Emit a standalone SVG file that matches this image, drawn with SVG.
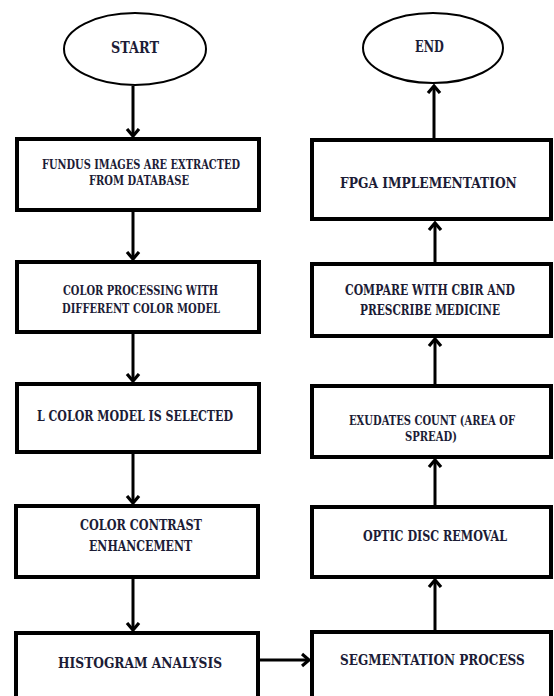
<svg xmlns="http://www.w3.org/2000/svg" width="554" height="696" viewBox="0 0 554 696">
<style>
.box{fill:#fff;stroke:#000;stroke-width:4}
.oval{fill:#fff;stroke:#000;stroke-width:2}
.t{font-family:"DejaVu Serif","Liberation Serif",serif;font-weight:bold;fill:#1c1c36}
.c{stroke:#000;stroke-width:3;fill:none}
</style>
<defs>
<marker id="ah" markerUnits="userSpaceOnUse" markerWidth="16" markerHeight="16" refX="8" refY="8" orient="auto">
<path d="M1,2 L8,8 L1,14" fill="none" stroke="#000" stroke-width="3.2"/>
</marker>
</defs>
<rect width="554" height="696" fill="#fff"/>
<g id="connectors">
<line class="c" x1="133" y1="86" x2="133" y2="136" marker-end="url(#ah)"/>
<line class="c" x1="133" y1="212" x2="133" y2="259" marker-end="url(#ah)"/>
<line class="c" x1="133" y1="334" x2="133" y2="381" marker-end="url(#ah)"/>
<line class="c" x1="133" y1="454" x2="133" y2="503" marker-end="url(#ah)"/>
<line class="c" x1="133" y1="579" x2="133" y2="630" marker-end="url(#ah)"/>
<line class="c" x1="260" y1="660" x2="309" y2="660" marker-end="url(#ah)"/>
<line class="c" x1="435" y1="630" x2="435" y2="580" marker-end="url(#ah)"/>
<line class="c" x1="435" y1="505" x2="435" y2="460" marker-end="url(#ah)"/>
<line class="c" x1="435" y1="384" x2="435" y2="339" marker-end="url(#ah)"/>
<line class="c" x1="435" y1="262" x2="435" y2="223" marker-end="url(#ah)"/>
<line class="c" x1="434" y1="138" x2="434" y2="86" marker-end="url(#ah)"/>
</g>
<g id="start">
<ellipse class="oval" cx="135" cy="49" rx="71" ry="36"/>
<text class="t" transform="translate(111,53) scale(0.8,1)" font-size="17" textLength="60" lengthAdjust="spacingAndGlyphs">START</text>
</g>
<g id="fundus">
<rect class="box" x="17" y="139" width="242" height="71"/>
<text class="t" transform="translate(42,169) scale(0.8,1)" font-size="12" textLength="247.5" lengthAdjust="spacingAndGlyphs">FUNDUS IMAGES ARE EXTRACTED</text>
<text class="t" transform="translate(89,185) scale(0.8,1)" font-size="12" textLength="125" lengthAdjust="spacingAndGlyphs">FROM DATABASE</text>
</g>
<g id="colorproc">
<rect class="box" x="17" y="262" width="242" height="70"/>
<text class="t" transform="translate(63,295) scale(0.8,1)" font-size="12.5" textLength="194" lengthAdjust="spacingAndGlyphs">COLOR PROCESSING WITH</text>
<text class="t" transform="translate(62,313) scale(0.8,1)" font-size="12.5" textLength="197.5" lengthAdjust="spacingAndGlyphs">DIFFERENT COLOR MODEL</text>
</g>
<g id="lmodel">
<rect class="box" x="17" y="384" width="242" height="68"/>
<text class="t" transform="translate(37,421) scale(0.8,1)" font-size="14.5" textLength="245" lengthAdjust="spacingAndGlyphs">L COLOR MODEL IS SELECTED</text>
</g>
<g id="contrast">
<rect class="box" x="16" y="506" width="242" height="71"/>
<text class="t" transform="translate(80,530) scale(0.8,1)" font-size="15" textLength="152.5" lengthAdjust="spacingAndGlyphs">COLOR CONTRAST</text>
<text class="t" transform="translate(89,551) scale(0.8,1)" font-size="15" textLength="129" lengthAdjust="spacingAndGlyphs">ENHANCEMENT</text>
</g>
<g id="histogram">
<rect class="box" x="16" y="633" width="242" height="80"/>
<text class="t" transform="translate(58,668) scale(0.8,1)" font-size="14.5" textLength="205" lengthAdjust="spacingAndGlyphs">HISTOGRAM ANALYSIS</text>
</g>
<g id="end">
<ellipse class="oval" cx="433" cy="48" rx="70" ry="35"/>
<text class="t" transform="translate(415,52) scale(0.8,1)" font-size="17" textLength="36" lengthAdjust="spacingAndGlyphs">END</text>
</g>
<g id="fpga">
<rect class="box" x="312" y="140" width="239" height="79"/>
<text class="t" transform="translate(340,188) scale(0.8,1)" font-size="15" textLength="221" lengthAdjust="spacingAndGlyphs">FPGA IMPLEMENTATION</text>
</g>
<g id="compare">
<rect class="box" x="312" y="264" width="239" height="72"/>
<text class="t" transform="translate(345,295) scale(0.8,1)" font-size="14.5" textLength="212.5" lengthAdjust="spacingAndGlyphs">COMPARE WITH CBIR AND</text>
<text class="t" transform="translate(360,315) scale(0.8,1)" font-size="14.5" textLength="175" lengthAdjust="spacingAndGlyphs">PRESCRIBE MEDICINE</text>
</g>
<g id="exudates">
<rect class="box" x="312" y="386" width="239" height="71"/>
<text class="t" transform="translate(349,425) scale(0.8,1)" font-size="13" textLength="207.5" lengthAdjust="spacingAndGlyphs">EXUDATES COUNT (AREA OF</text>
<text class="t" transform="translate(405,441) scale(0.8,1)" font-size="13" textLength="65" lengthAdjust="spacingAndGlyphs">SPREAD)</text>
</g>
<g id="optic">
<rect class="box" x="312" y="507" width="239" height="70"/>
<text class="t" transform="translate(363,541) scale(0.8,1)" font-size="14.5" textLength="180" lengthAdjust="spacingAndGlyphs">OPTIC DISC REMOVAL</text>
</g>
<g id="segmentation">
<rect class="box" x="312" y="632" width="239" height="80"/>
<text class="t" transform="translate(340,665) scale(0.8,1)" font-size="15" textLength="231" lengthAdjust="spacingAndGlyphs">SEGMENTATION PROCESS</text>
</g>
</svg>
